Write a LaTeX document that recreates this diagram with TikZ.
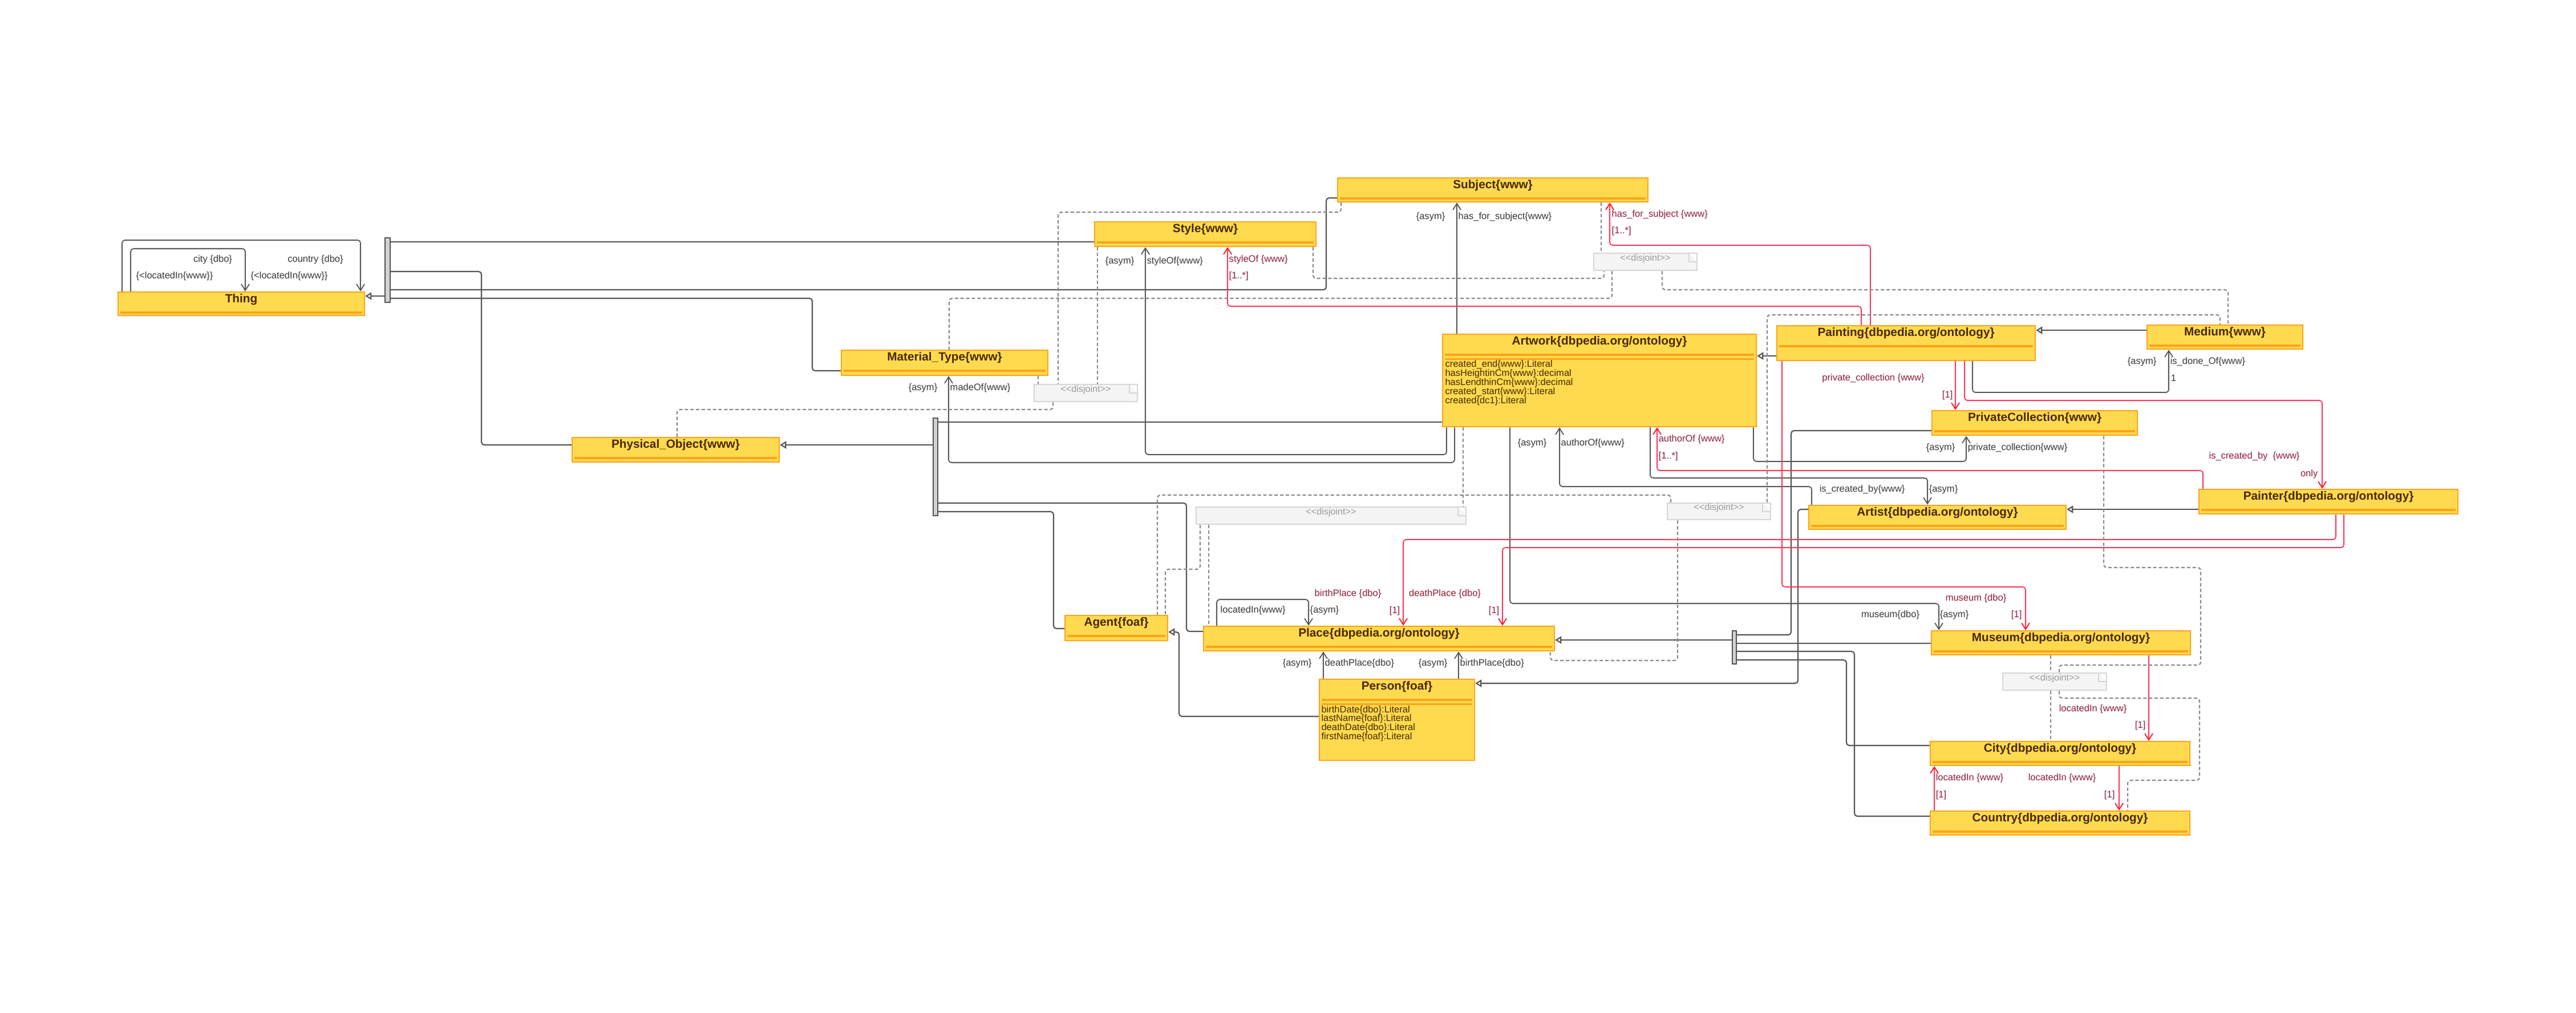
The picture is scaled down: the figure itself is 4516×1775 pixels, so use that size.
\documentclass[tikz,border=0pt]{standalone}
\usepackage{fontspec}
\setmainfont{Liberation Sans}
\usetikzlibrary{arrows.meta,fit}
\definecolor{clsfill}{HTML}{FFDA4F}
\definecolor{clsedge}{HTML}{FFA31A}
\definecolor{ttlcol}{HTML}{4B2800}
\definecolor{lincol}{HTML}{555555}
\definecolor{redcol}{HTML}{FF3358}
\definecolor{redtip}{HTML}{FF1020}
\definecolor{rtxt}{HTML}{8E1F3B}
\definecolor{gtxt}{HTML}{3A3A3A}
\definecolor{dashcol}{HTML}{8A8A8A}
\definecolor{notefill}{HTML}{F4F4F4}
\definecolor{noteedge}{HTML}{D6D6D6}
\definecolor{notetxt}{HTML}{9A9A9A}
\definecolor{barfill}{HTML}{D2D2D2}
\begin{document}
\begin{tikzpicture}[x=0.01cm, y=-0.01cm,
  cls/.style={draw=clsedge, fill=clsfill, line width=0.7pt, inner sep=0pt,
    path picture={\draw[line width=0.9pt] ([shift={(0.04cm,-0.36cm)}]path picture bounding box.north west) -- ([shift={(-0.04cm,-0.36cm)}]path picture bounding box.north east);}},
  clsatt/.style={draw=clsedge, fill=clsfill, line width=0.7pt, inner sep=0pt,
    path picture={\draw[line width=0.9pt] ([shift={(0.04cm,-0.36cm)}]path picture bounding box.north west) -- ([shift={(-0.04cm,-0.36cm)}]path picture bounding box.north east);
      \draw[line width=0.9pt] ([shift={(0.04cm,-0.435cm)}]path picture bounding box.north west) -- ([shift={(-0.04cm,-0.435cm)}]path picture bounding box.north east);}},
  ttl/.style={font=\bfseries\fontsize{5.9}{6}\selectfont, text=ttlcol, anchor=center, yshift=-0.14cm, inner sep=0pt},
  att/.style={font=\fontsize{4.7}{4.54}\selectfont, text=ttlcol, align=left, anchor=north west, inner sep=0pt},
  bar/.style={draw=lincol, fill=barfill, line width=0.5pt, inner sep=0pt},
  note/.style={draw=noteedge, fill=notefill, line width=0.8pt, inner sep=0pt, text=notetxt, font=\fontsize{4.6}{5}\selectfont,
    path picture={\fill[white] ([xshift=-0.14cm]path picture bounding box.north east) -- (path picture bounding box.north east) -- ([yshift=-0.15cm]path picture bounding box.north east) -- cycle;
      \draw[noteedge, line width=0.8pt] ([xshift=-0.14cm]path picture bounding box.north east) -- ([shift={(-0.14cm,-0.15cm)}]path picture bounding box.north east) -- ([yshift=-0.15cm]path picture bounding box.north east);}},
  lbl/.style={font=\fontsize{4.7}{5}\selectfont, text=gtxt, inner sep=0pt},
  rlbl/.style={lbl, text=rtxt},
  plain/.style={draw=lincol, line width=0.6pt, rounded corners=0.05cm},
  gen/.style={plain, -{Triangle[open, length=1.1mm, width=1.3mm, fill=white]}},
  assoc/.style={draw=lincol, line width=0.5pt, rounded corners=0.05cm, -{Straight Barb[length=1.1mm, width=1.4mm]}},
  rassoc/.style={draw=redcol, line width=0.5pt, rounded corners=0.05cm, -{Straight Barb[length=1.1mm, width=1.4mm, color=redtip]}},
  djl/.style={draw=dashcol, line width=0.6pt, dash pattern=on 1.7pt off 1.1pt, rounded corners=0.05cm}]

\path[use as bounding box, fill=white] (0,0) rectangle (4516,1775);

\node[cls, fit={(207,512)(639,553)}, label={[ttl]north:Thing}] (thing) {};
\node[cls, fit={(2345,312)(2889,354)}, label={[ttl]north:Subject\{www\}}] (subject) {};
\node[cls, fit={(1919,389)(2307,432)}, label={[ttl]north:Style\{www\}}] (style) {};
\node[cls, fit={(1475,614)(1837,658)}, label={[ttl]north:Material\_Type\{www\}}] (material) {};
\node[cls, fit={(1003,767)(1366,810)}, label={[ttl]north:Physical\_Object\{www\}}] (physobj) {};
\node[clsatt, fit={(2529,586)(3079,748)}, label={[ttl]north:Artwork\{dbpedia.org/ontology\}}] (artwork) {};
\node[att] (artworkatt) at ([shift={(0.05cm,-0.465cm)}]artwork.north west) {created\_end\{www\}:Literal\\hasHeightinCm\{www\}:decimal\\hasLendthinCm\{www\}:decimal\\created\_start\{www\}:Literal\\created\{dc1\}:Literal};
\node[cls, fit={(3115,571)(3568,632)}, label={[ttl]north:Painting\{dbpedia.org/ontology\}}] (painting) {};
\node[cls, fit={(3764,570)(4037,612)}, label={[ttl]north:Medium\{www\}}] (medium) {};
\node[cls, fit={(3387,720)(3747,763)}, label={[ttl]north:PrivateCollection\{www\}}] (privcoll) {};
\node[cls, fit={(3855,858)(4309,901)}, label={[ttl]north:Painter\{dbpedia.org/ontology\}}] (painter) {};
\node[cls, fit={(3171,886)(3622,928)}, label={[ttl]north:Artist\{dbpedia.org/ontology\}}] (artist) {};
\node[cls, fit={(1867,1079)(2047,1123)}, label={[ttl]north:Agent\{foaf\}}] (agent) {};
\node[cls, fit={(2110,1098)(2725,1141)}, label={[ttl]north:Place\{dbpedia.org/ontology\}}] (place) {};
\node[clsatt, fit={(2313,1191)(2585,1333)}, label={[ttl]north:Person\{foaf\}}] (person) {};
\node[att] (personatt) at ([shift={(0.04cm,-0.465cm)}]person.north west) {birthDate\{dbo\}:Literal\\lastName\{foaf\}:Literal\\deathDate\{dbo\}:Literal\\firstName\{foaf\}:Literal};
\node[cls, fit={(3386,1106)(3840,1148)}, label={[ttl]north:Museum\{dbpedia.org/ontology\}}] (museum) {};
\node[cls, fit={(3384,1300)(3839,1342)}, label={[ttl]north:City\{dbpedia.org/ontology\}}] (city) {};
\node[cls, fit={(3384,1422)(3839,1464)}, label={[ttl]north:Country\{dbpedia.org/ontology\}}] (country) {};

\node[bar, fit={(675,417)(684,530)}] (barthing) {};
\node[bar, fit={(1636,733)(1644,904)}] (barphys) {};
\node[bar, fit={(3037,1106)(3044,1164)}] (barplace) {};

\node[note, fit={(2794,444)(2975,474)}] (djsubject) {<\kern0pt<disjoint>\kern0pt>};
\node[note, fit={(1813,674)(1994,704)}] (djmaterial) {<\kern0pt<disjoint>\kern0pt>};
\node[note, fit={(2097,889)(2570,919)}] (djartwork) {<\kern0pt<disjoint>\kern0pt>};
\node[note, fit={(2923,882)(3104,911)}] (djartist) {<\kern0pt<disjoint>\kern0pt>};
\node[note, fit={(3511,1180)(3693,1210)}] (djmuseum) {<\kern0pt<disjoint>\kern0pt>};

\draw[gen] (barthing.west |- 0,519) -- (thing.east |- 0,519);
\draw[gen] (barphys.west |- 0,780) -- (physobj.east |- 0,780);
\draw[gen] (barplace.west |- 0,1122) -- (place.east |- 0,1122);
\draw[gen] (painting.west |- 0,624) -- (artwork.east |- 0,624);
\draw[gen] (medium.west |- 0,579) -- (painting.east |- 0,579);
\draw[gen] (painter.west |- 0,893) -- (artist.east |- 0,893);
\draw[gen] (artist.west |- 0,893) -| (3152,1198) -- (person.east |- 0,1198);
\draw[gen] (person.west |- 0,1256) -| (2067,1108) -- (agent.east |- 0,1108);

\draw[plain] (barthing.east |- 0,424) -- (style.west |- 0,424);
\draw[plain] (barthing.east |- 0,476) -| (844,780) -- (physobj.west |- 0,780);
\draw[plain] (barthing.east |- 0,508) -| (2325,347) -- (subject.west |- 0,347);
\draw[plain] (barthing.east |- 0,523) -| (1424,650) -- (material.west |- 0,650);
\draw[plain] (barphys.east |- 0,740) -- (artwork.west |- 0,740);
\draw[plain] (barphys.east |- 0,882) -| (2080,1107) -- (place.west |- 0,1107);
\draw[plain] (barphys.east |- 0,897) -| (1847,1102) -- (agent.west |- 0,1102);
\draw[plain] (barplace.east |- 0,1113) -| (3140,755) -- (privcoll.west |- 0,755);
\draw[plain] (barplace.east |- 0,1128) -- (museum.west |- 0,1128);
\draw[plain] (barplace.east |- 0,1142) -| (3251,1431) -- (country.west |- 0,1431);
\draw[plain] (barplace.east |- 0,1157) -| (3237,1307) -- (city.west |- 0,1307);

\draw[assoc] (thing.north -| 214,0) |- (632,421) -- (thing.north -| 632,0);
\draw[assoc] (thing.north -| 229,0) |- (430,436) -- (thing.north -| 430,0);
\draw[assoc] (artwork.north -| 2554,0) -- (subject.south -| 2554,0);
\draw[assoc] (artwork.south -| 2536,0) |- (2008,797) -- (style.south -| 2008,0);
\draw[assoc] (artwork.south -| 2550,0) |- (1663,811) -- (material.south -| 1663,0);
\draw[assoc] (artist.north -| 3176,0) |- (2734,853) -- (artwork.south -| 2734,0);
\draw[assoc] (artwork.south -| 2893,0) |- (3379,838) -- (artist.north -| 3379,0);
\draw[assoc] (artwork.south -| 3074,0) |- (3447,809) -- (privcoll.south -| 3447,0);
\draw[assoc] (painting.south -| 3458,0) |- (3802,688) -- (medium.south -| 3802,0);
\draw[assoc] (artwork.south -| 2647,0) |- (3399,1058) -- (museum.north -| 3399,0);
\draw[assoc] (place.north -| 2133,0) |- (2294,1051) -- (place.north -| 2294,0);
\draw[assoc] (person.north -| 2320,0) -- (place.south -| 2320,0);
\draw[assoc] (person.north -| 2557,0) -- (place.south -| 2557,0);

\draw[rassoc] (painting.north -| 3263,0) |- (2152,537) -- (style.south -| 2152,0);
\draw[rassoc] (painting.north -| 3279,0) |- (2822,430) -- (subject.south -| 2822,0);
\draw[rassoc] (painting.south -| 3428,0) -- (privcoll.north -| 3428,0);
\draw[rassoc] (painting.south -| 3444,0) |- (4071,702) -- (painter.north -| 4071,0);
\draw[rassoc] (painter.north -| 3862,0) |- (2905,825) -- (artwork.south -| 2905,0);
\draw[rassoc] (painter.south -| 4095,0) |- (2460,946) -- (place.north -| 2460,0);
\draw[rassoc] (painter.south -| 4109,0) |- (2634,960) -- (place.north -| 2634,0);
\draw[rassoc] (painting.south -| 3124,0) |- (3551,1029) -- (museum.north -| 3551,0);
\draw[rassoc] (museum.south -| 3767,0) -- (city.north -| 3767,0);
\draw[rassoc] (city.south -| 3715,0) -- (country.north -| 3715,0);
\draw[rassoc] (country.north -| 3391,0) -- (city.south -| 3391,0);

\draw[djl] (subject.south -| 2807,0) -- (djsubject.north -| 2807,0);
\draw[djl] (style.south -| 2302,0) |- (2812,488) -- (djsubject.south -| 2812,0);
\draw[djl] (djsubject.south -| 2826,0) |- (1664,523) -- (material.north -| 1664,0);
\draw[djl] (djsubject.south -| 2914,0) |- (3906,508) -- (medium.north -| 3906,0);
\draw[djl] (material.south -| 1820,0) -- (djmaterial.north -| 1820,0);
\draw[djl] (subject.south -| 2351,0) |- (1855,372) -- (djmaterial.north -| 1855,0);
\draw[djl] (style.south -| 1924,0) -- (djmaterial.north -| 1924,0);
\draw[djl] (djmaterial.south -| 1846,0) |- (1187,718) -- (physobj.north -| 1187,0);
\draw[djl] (artwork.south -| 2565,0) -- (djartwork.north -| 2565,0);
\draw[djl] (djartwork.south -| 2104,0) |- (2043,998) -- (agent.north -| 2043,0);
\draw[djl] (djartwork.south -| 2119,0) -- (place.north -| 2119,0);
\draw[djl] (djartist.north -| 3098,0) |- (3892,552) -- (medium.north -| 3892,0);
\draw[djl] (djartist.north -| 2929,0) |- (2029,868) -- (agent.north -| 2029,0);
\draw[djl] (djartist.south -| 2941,0) |- (2718,1158) -- (place.south -| 2718,0);
\draw[djl] (privcoll.south -| 3688,0) |- (3858,995) |- (3610,1166) -- (djmuseum.north -| 3610,0);
\draw[djl] (museum.south -| 3595,0) -- (djmuseum.north -| 3595,0);
\draw[djl] (djmuseum.south -| 3595,0) -- (city.north -| 3595,0);
\draw[djl] (djmuseum.south -| 3610,0) |- (3856,1224) |- (3730,1368) -- (country.north -| 3730,0);

\node[lbl] (thcity) at (373,455) {city \{dbo\}};
\node[lbl] (thcityloc) at (306,484) {\{<locatedIn\{www\}\}};
\node[lbl] (thctry) at (553,455) {country \{dbo\}};
\node[lbl] (thctryloc) at (507,484) {\{<locatedIn\{www\}\}};
\node[lbl] (subjasym) at (2508,380) {\{asym\}};
\node[lbl, anchor=west] (subjhfs) at (2556,380) {has\_for\_subject\{www\}};
\node[rlbl, anchor=west] (subjrhfs) at (2825,376) {has\_for\_subject \{www\}};
\node[rlbl, anchor=west] (subjrm) at (2825,405) {[1..*]};
\node[lbl] (styasym) at (1963,458) {\{asym\}};
\node[lbl, anchor=west] (stysof) at (2010,458) {styleOf\{www\}};
\node[rlbl, anchor=west] (styrsof) at (2154,455) {styleOf \{www\}};
\node[rlbl, anchor=west] (styrm) at (2154,484) {[1..*]};
\node[lbl] (matasym) at (1618,680) {\{asym\}};
\node[lbl, anchor=west] (matmade) at (1665,680) {madeOf\{www\}};
\node[lbl] (artasym) at (2686,777) {\{asym\}};
\node[lbl, anchor=west] (artauth) at (2736,777) {authorOf\{www\}};
\node[rlbl, anchor=west] (artrauth) at (2907,770) {authorOf \{www\}};
\node[rlbl, anchor=west] (artrm) at (2907,800) {[1..*]};
\node[rlbl] (pcr) at (3284,663) {private\_collection \{www\}};
\node[rlbl, anchor=east] (pcrm) at (3424,693) {[1]};
\node[lbl] (medasym) at (3755,634) {\{asym\}};
\node[lbl, anchor=west] (meddone) at (3804,634) {is\_done\_Of\{www\}};
\node[lbl, anchor=west] (medm) at (3805,663) {1};
\node[lbl] (pcasym) at (3402,785) {\{asym\}};
\node[lbl, anchor=west] (pcpc) at (3449,785) {private\_collection\{www\}};
\node[rlbl] (pntrcb) at (3952,800) {is\_created\_by \ \{www\}};
\node[rlbl, anchor=east] (pntronly) at (4064,831) {only};
\node[lbl, anchor=west] (artistcb) at (3189,858) {is\_created\_by\{www\}};
\node[lbl, anchor=west] (artistasym) at (3381,858) {\{asym\}};
\node[lbl, anchor=west] (plloc) at (2139,1070) {locatedIn\{www\}};
\node[lbl, anchor=west] (plasym) at (2296,1070) {\{asym\}};
\node[rlbl] (plrbirth) at (2363,1041) {birthPlace \{dbo\}};
\node[rlbl, anchor=east] (plrbirthm) at (2455,1071) {[1]};
\node[rlbl] (plrdeath) at (2533,1041) {deathPlace \{dbo\}};
\node[rlbl, anchor=east] (plrdeathm) at (2629,1071) {[1]};
\node[lbl] (pdasym) at (2274,1163) {\{asym\}};
\node[lbl, anchor=west] (pdeath) at (2322,1163) {deathPlace\{dbo\}};
\node[lbl] (pbasym) at (2512,1163) {\{asym\}};
\node[lbl, anchor=west] (pbirth) at (2559,1163) {birthPlace\{dbo\}};
\node[rlbl] (musr) at (3464,1049) {museum \{dbo\}};
\node[rlbl, anchor=east] (musrm) at (3545,1078) {[1]};
\node[lbl] (musb) at (3314,1078) {museum\{dbo\}};
\node[lbl, anchor=west] (musasym) at (3400,1078) {\{asym\}};
\node[rlbl] (cityr) at (3669,1243) {locatedIn \{www\}};
\node[rlbl, anchor=east] (cityrm) at (3762,1272) {[1]};
\node[rlbl] (ctryr) at (3615,1364) {locatedIn \{www\}};
\node[rlbl, anchor=east] (ctryrm) at (3708,1394) {[1]};
\node[rlbl, anchor=west] (ctryup) at (3393,1364) {locatedIn \{www\}};
\node[rlbl, anchor=west] (ctryupm) at (3393,1394) {[1]};
\end{tikzpicture}
\end{document}
